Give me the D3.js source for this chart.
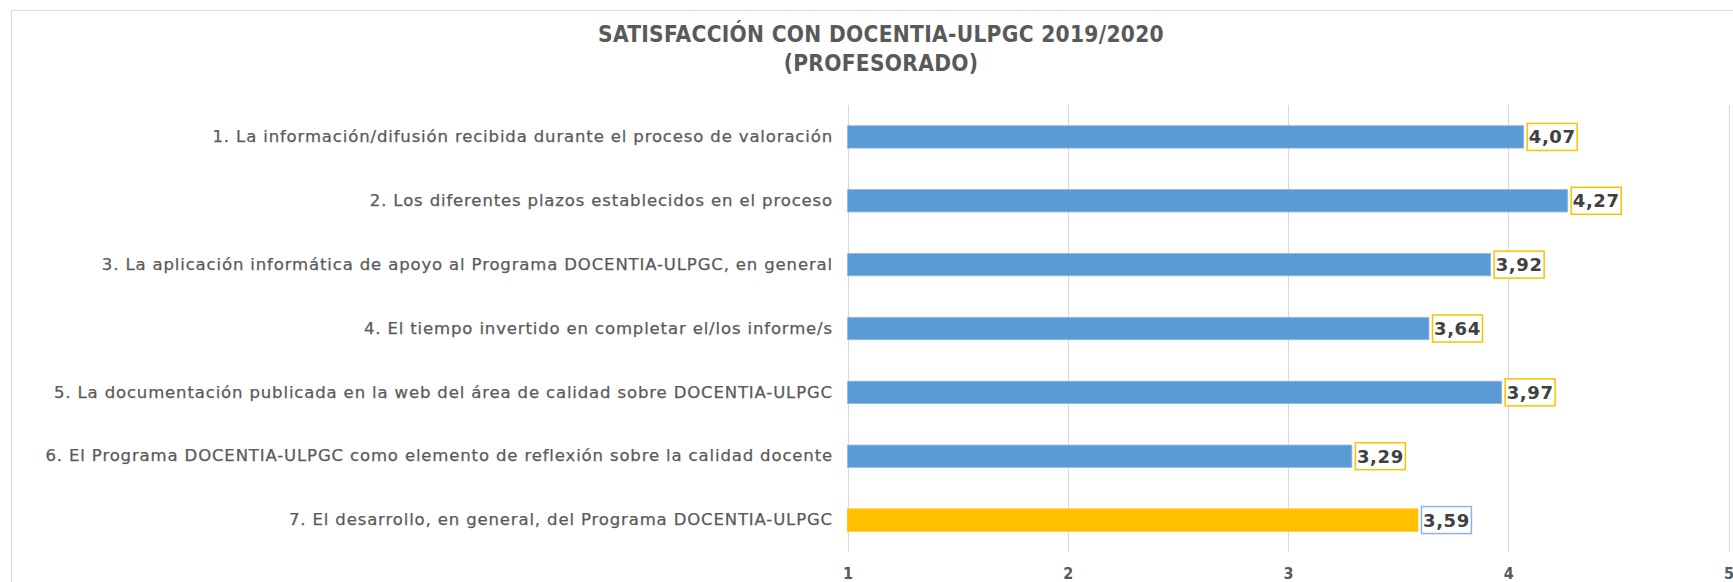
<!DOCTYPE html>
<html>
<head>
<meta charset="utf-8">
<script src="https://cdn.jsdelivr.net/npm/d3@7"></script>
<style>
  html, body { margin: 0; padding: 0; background: #fff; }
  svg { display: block; }
</style>
</head>
<body>
<div id="chart"></div>
<script>

// data
var categories = [
  '1. La información/difusión recibida durante el proceso de valoración',
  '2. Los diferentes plazos establecidos en el proceso',
  '3. La aplicación informática de apoyo al Programa DOCENTIA-ULPGC, en general',
  '4. El tiempo invertido en completar el/los informe/s',
  '5. La documentación publicada en la web del área de calidad sobre DOCENTIA-ULPGC',
  '6. El Programa DOCENTIA-ULPGC como elemento de reflexión sobre la calidad docente',
  '7. El desarrollo, en general, del Programa DOCENTIA-ULPGC'
];
var values = [4.07, 4.27, 3.92, 3.64, 3.97, 3.29, 3.59];
var xTicks = [1, 2, 3, 4, 5];
var titleLines = ['SATISFACCIÓN CON DOCENTIA-ULPGC 2019/2020', '(PROFESORADO)'];

var W = 1733, H = 582;
var FONT = '"DejaVu Sans", sans-serif';
var FONT_C = '"DejaVu Sans Condensed", "DejaVu Sans", sans-serif';

var svg = d3.select('#chart').append('svg')
  .attr('width', W)
  .attr('height', H)
  .style('font-family', FONT);

// outer chart frame (runs off right and bottom)
svg.append('rect')
  .attr('x', 11.5).attr('y', 10.5)
  .attr('width', 1760).attr('height', 600)
  .attr('fill', 'none')
  .attr('stroke', '#d9d9d9')
  .attr('stroke-width', 1);

// title
svg.append('text')
  .attr('text-anchor', 'middle')
  .attr('fill', '#595959')
  .attr('font-weight', 'bold')
  .attr('font-size', 22.5)
  .attr('font-family', FONT_C)
  .attr('letter-spacing', 0.3)
  .selectAll('tspan')
  .data(titleLines)
  .enter().append('tspan')
  .attr('x', 881)
  .attr('y', function(d, i) { return 42 + i * 29; })
  .text(function(d) { return d; });

var x = d3.scaleLinear().domain([1, 5]).range([847.5, 1728.5]);
var y = d3.scaleBand().domain(categories).range([105, 552])
  .paddingInner(0.65).paddingOuter(0.325);

// gridlines
svg.append('g').selectAll('line')
  .data(xTicks)
  .enter().append('line')
  .attr('x1', function(d) { return Math.round(x(d)) + 0.5; })
  .attr('x2', function(d) { return Math.round(x(d)) + 0.5; })
  .attr('y1', 105).attr('y2', 552)
  .attr('stroke', '#d9d9d9')
  .attr('stroke-width', 1);

// x axis labels
var xAxis = d3.axisBottom(x).tickValues(xTicks).tickSize(0).tickPadding(0)
  .tickFormat(d3.format('d'));
var gx = svg.append('g')
  .attr('transform', 'translate(0,' + 568 + ')')
  .call(xAxis);
gx.select('.domain').remove();
gx.selectAll('text')
  .attr('fill', '#595959')
  .attr('font-size', 16)
  .attr('font-family', FONT_C)
  .attr('font-weight', 'bold');

// category labels
var yAxis = d3.axisLeft(y).tickSize(0).tickPadding(0);
var gy = svg.append('g')
  .attr('transform', 'translate(' + 833 + ',0)')
  .call(yAxis);
gy.select('.domain').remove();
var yText = gy.selectAll('text')
  .attr('fill', '#595959')
  .attr('font-size', 16.5)
  .attr('font-family', FONT)
  .attr('stroke', '#595959')
  .attr('stroke-width', 0.25);

// one letter spacing so labels 1 and 6 together span what they span in the reference
var nodes = yText.nodes();
var g1 = nodes[0].getComputedTextLength(), n1 = categories[0].length;
var g6 = nodes[5].getComputedTextLength(), n6 = categories[5].length;
var sp = (640 + 768 - g1 - g6) / (n1 + n6);
yText.attr('letter-spacing', Math.max(0, sp));

// bars
var n = values.length;
svg.append('g').selectAll('rect')
  .data(values)
  .enter().append('rect')
  .attr('x', x(1))
  .attr('y', function(d, i) { return y(categories[i]); })
  .attr('width', function(d) { return x(d) - x(1); })
  .attr('height', y.bandwidth())
  .attr('fill', function(d, i) { return i === n - 1 ? '#ffc000' : '#5b9bd5'; })
  .attr('stroke', function(d, i) { return i === n - 1 ? '#ffc000' : '#8db8e3'; })
  .attr('stroke-width', 0.8);

// value labels with boxes
var fmt = function(v) { return d3.format('.2f')(v).replace('.', ','); };
var lab = svg.append('g').selectAll('g')
  .data(values)
  .enter().append('g')
  .attr('transform', function(d, i) {
    return 'translate(' + (x(d) + 3) + ',' + (y(categories[i]) + y.bandwidth() / 2) + ')';
  });

lab.append('rect')
  .attr('x', 0.5).attr('y', -13.5)
  .attr('width', 50).attr('height', 27)
  .attr('fill', '#fff')
  .attr('stroke', function(d, i) { return i === n - 1 ? '#8fb4e0' : '#ffc000'; })
  .attr('stroke-width', 1.5);

lab.append('text')
  .attr('x', 25.5).attr('y', 0)
  .attr('dy', '0.36em')
  .attr('text-anchor', 'middle')
  .attr('fill', '#404040')
  .attr('font-weight', 'bold')
  .attr('font-size', 18)
  .attr('letter-spacing', 0.6)
  .attr('font-family', FONT)
  .text(function(d) { return fmt(d); });

</script>
</body>
</html>
